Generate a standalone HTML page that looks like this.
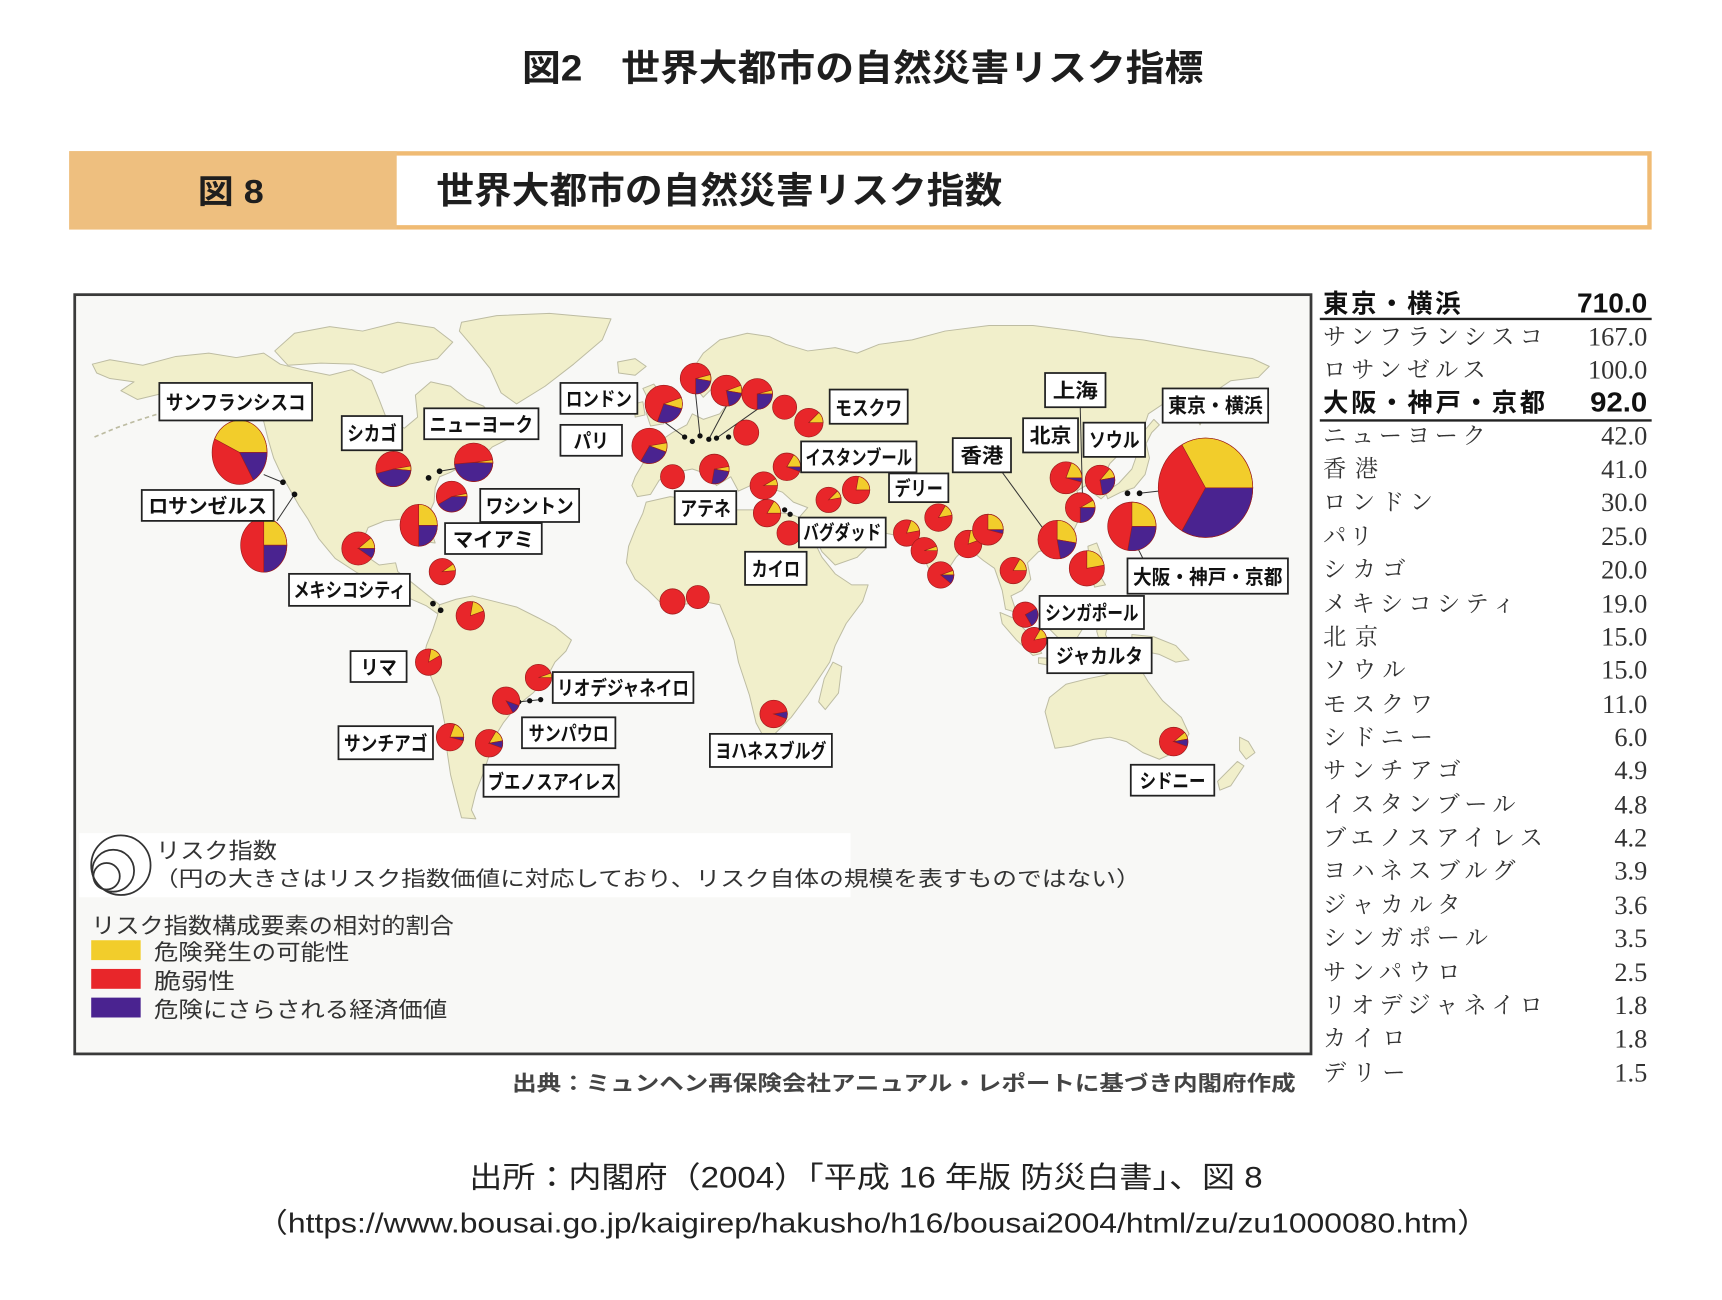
<!DOCTYPE html>
<html lang="ja">
<head>
<meta charset="utf-8">
<style>
html,body{margin:0;padding:0;background:#fff;}
svg{display:block;}
.sans{font-family:"Liberation Sans","Noto Sans CJK JP",sans-serif;}
.serif{font-family:"Liberation Serif","Noto Serif CJK SC",serif;}
</style>
</head>
<body>
<svg width="1722" height="1300" viewBox="0 0 1567 1178" preserveAspectRatio="none" xmlns="http://www.w3.org/2000/svg">
<rect x="0" y="0" width="1567" height="1178" fill="#ffffff"/>

<!-- Main title -->
<text class="sans" x="475" y="73" font-size="33" font-weight="bold" fill="#1e1e1e" textLength="620" lengthAdjust="spacingAndGlyphs">図2　世界大都市の自然災害リスク指標</text>

<!-- Banner -->
<rect x="65" y="139" width="1436" height="67" fill="#ffffff" stroke="#F0BB74" stroke-width="4"/>
<rect x="63" y="137" width="298" height="71" fill="#EEBF7F"/>
<text class="sans" x="180" y="184" font-size="30" font-weight="bold" fill="#1e1e1e" textLength="60" lengthAdjust="spacingAndGlyphs">図 8</text>
<text class="sans" x="397" y="184" font-size="33" font-weight="bold" fill="#1e1e1e" textLength="515" lengthAdjust="spacingAndGlyphs">世界大都市の自然災害リスク指数</text>

<!-- Map frame -->
<rect x="68" y="267" width="1125" height="688" fill="#F8F8F6" stroke="#3a3a3a" stroke-width="2.5"/>

<!-- Land -->
<g fill="#F1EFCB" stroke="#BDBCA2" stroke-width="0.9" stroke-linejoin="round">
<path d="M84,330 L100,326 L130,331 L160,323 L190,320 L215,324 L240,320 L255,330 L275,335 L300,340 L320,335 L338,345 L345,362 L352,380 L368,388 L380,378 L378,358 L392,346 L410,350 L425,362 L440,368 L455,385 L462,398 L448,405 L440,413 L425,420 L410,428 L400,432 L396,442 L395,455 L390,466 L386,470 L392,480 L396,492 L388,491 L382,476 L370,470 L350,472 L335,478 L330,490 L335,505 L345,512 L360,510 L362,518 L375,528 L390,540 L400,548 L404,553 L398,556 L388,549 L370,541 L350,531 L325,519 L305,506 L290,488 L280,470 L272,458 L264,444 L256,430 L249,415 L244,398 L240,382 L230,367 L215,357 L195,352 L175,353 L150,356 L125,362 L110,354 L122,346 L100,343 L88,338 Z"/>
<path d="M250,318 L268,302 L300,296 L330,300 L362,292 L395,297 L412,310 L398,325 L372,330 L348,338 L322,330 L292,329 L262,331 Z"/>
<path d="M420,292 L452,286 L500,284 L556,289 L548,308 L522,330 L496,350 L470,366 L456,356 L446,334 L430,314 L418,300 Z"/>
<path d="M562,328 L578,325 L588,332 L578,340 L563,338 Z"/>
<path d="M400,548 L415,543 L430,540 L450,545 L470,550 L490,560 L505,568 L520,580 L515,590 L505,600 L497,615 L485,628 L470,640 L458,655 L450,668 L445,685 L440,700 L433,718 L429,734 L433,742 L420,741 L415,722 L410,702 L407,682 L405,657 L400,632 L392,613 L385,600 L388,585 L394,570 L398,558 Z"/>
<path d="M588,455 L610,450 L640,455 L660,462 L690,462 L720,466 L730,470 L738,485 L748,505 L760,520 L775,530 L790,530 L785,545 L770,565 L760,585 L755,600 L745,615 L735,630 L720,650 L705,665 L695,668 L688,655 L682,630 L672,600 L668,580 L660,560 L655,548 L640,545 L620,548 L600,545 L590,535 L578,525 L570,510 L572,495 L578,480 L585,465 Z"/>
<path d="M578,432 L585,420 L598,415 L600,400 L612,392 L625,385 L630,375 L640,380 L655,375 L665,362 L660,350 L648,352 L640,360 L632,350 L630,335 L640,320 L655,308 L680,302 L700,305 L715,312 L735,318 L760,315 L780,320 L800,312 L830,308 L860,300 L900,295 L940,295 L980,300 L1010,305 L1040,308 L1080,315 L1110,320 L1140,325 L1155,332 L1145,342 L1120,345 L1105,355 L1100,370 L1092,385 L1085,372 L1075,360 L1060,365 L1045,375 L1040,390 L1030,400 L1020,410 L1010,420 L1005,430 L1010,445 L1002,452 L995,447 L988,440 L980,445 L985,458 L982,470 L975,485 L960,495 L945,500 L935,510 L938,525 L930,535 L920,540 L925,555 L915,552 L912,535 L905,515 L895,508 L885,500 L875,500 L870,505 L860,520 L853,531 L845,515 L838,500 L830,488 L815,485 L800,482 L785,478 L775,485 L790,495 L780,505 L760,512 L748,500 L738,480 L728,468 L735,460 L722,455 L712,446 L700,442 L690,446 L683,440 L672,445 L665,432 L652,440 L645,430 L630,425 L615,428 L600,435 L592,448 L580,450 L575,440 Z"/>
<path d="M585,352 L595,348 L602,358 L606,372 L604,384 L592,386 L588,374 L590,362 Z"/>
<path d="M577,366 L585,364 L587,376 L578,378 Z"/>
<path d="M758,600 L766,604 L763,628 L751,643 L745,636 L750,615 Z"/>
<path d="M1008,452 L1020,446 L1032,442 L1042,430 L1046,415 L1043,402 L1048,392 L1055,385 L1050,380 L1040,392 L1036,408 L1030,425 L1018,438 L1006,446 Z"/>
<path d="M990,495 L998,492 L1003,505 L1000,520 L1006,530 L996,532 L992,515 Z"/>
<path d="M955,555 L970,545 L985,548 L990,562 L980,578 L965,580 L955,570 Z"/>
<path d="M910,555 L922,560 L940,578 L948,592 L940,594 L925,580 L912,565 Z"/>
<path d="M945,596 L970,597 L992,601 L988,605 L960,604 L945,601 Z"/>
<path d="M1000,560 L1010,558 L1006,575 L1012,588 L1002,586 L998,572 Z"/>
<path d="M1030,575 L1050,577 L1070,585 L1082,598 L1070,600 L1055,593 L1040,590 L1030,585 Z"/>
<path d="M955,632 L970,620 L990,615 L1005,612 L1020,606 L1030,600 L1037,605 L1045,618 L1058,635 L1075,650 L1082,665 L1073,680 L1055,688 L1040,682 L1025,672 L1010,668 L995,670 L975,676 L960,678 L955,660 L951,645 Z"/>
<path d="M1048,694 L1058,694 L1055,702 L1048,700 Z"/>
<path d="M1128,668 L1136,672 L1142,682 L1134,688 L1128,680 Z"/>
<path d="M1126,690 L1132,694 L1120,712 L1110,716 L1108,708 Z"/>
</g>
<path d="M86,396 L105,388 L125,381 L144,375" stroke="#BDBCA2" stroke-width="1.5" fill="none" stroke-dasharray="4,3"/>

<!-- connectors -->
<g stroke="#333" stroke-width="0.9" fill="none">
<line x1="268" y1="448" x2="252" y2="472"/>
<line x1="257" y1="437" x2="240" y2="430"/>
<line x1="400" y1="427" x2="418" y2="424"/>
<line x1="623" y1="396" x2="604" y2="382"/>
<line x1="637" y1="395" x2="633" y2="357"/>
<line x1="645" y1="398" x2="661" y2="368"/>
<line x1="652" y1="397" x2="689" y2="371"/>
<line x1="912" y1="428" x2="950" y2="480"/>
<line x1="983" y1="369" x2="985" y2="448"/>
<line x1="1040" y1="506" x2="1036" y2="498"/>
<line x1="1037" y1="447" x2="1054" y2="445"/>
<line x1="472" y1="636" x2="492" y2="634"/>
</g>
<g fill="#111">
<circle cx="257.5" cy="437" r="2.6"/><circle cx="268" cy="448" r="2.6"/>
<circle cx="390" cy="433" r="2.6"/><circle cx="400" cy="427" r="2.6"/>
<circle cx="394" cy="547" r="2.6"/><circle cx="401" cy="553" r="2.6"/>
<circle cx="472" cy="636" r="2.4"/><circle cx="482" cy="635" r="2.4"/><circle cx="492" cy="634" r="2.4"/>
<circle cx="623" cy="396" r="2.4"/><circle cx="630" cy="400" r="2.4"/><circle cx="637" cy="395" r="2.4"/>
<circle cx="645" cy="398" r="2.4"/><circle cx="652" cy="397" r="2.4"/><circle cx="663" cy="396" r="2.4"/>
<circle cx="714" cy="462" r="2.4"/><circle cx="719" cy="466" r="2.4"/>
<circle cx="1026" cy="447" r="2.6"/><circle cx="1037" cy="447" r="2.6"/>
</g>

<!-- Pies -->
<g stroke="#9a1c1c" stroke-width="0.6">
<ellipse cx="218" cy="410" rx="25" ry="29" fill="#E8262A"/>
<path d="M218,410 L195.3,397.7 A25,29 0 0,1 243,410 Z" fill="#F2CD2B"/>
<path d="M218,410 L243,410 A25,29 0 0,1 230.5,435.1 Z" fill="#4A2390"/>

<ellipse cx="240" cy="494" rx="21" ry="24.5" fill="#E8262A"/>
<path d="M240,494 L240,469.5 A21,24.5 0 0,1 261,494 Z" fill="#F2CD2B"/>
<path d="M240,494 L261,494 A21,24.5 0 0,1 240,518.5 Z" fill="#4A2390"/>

<circle cx="358" cy="425" r="16" fill="#E8262A"/>
<path d="M358,425 L373.8,422.2 A16,16 0 0,1 373.9,426.4 Z" fill="#F2CD2B"/>
<path d="M358,425 L373.9,426.4 A16,16 0 0,1 342.5,429.1 Z" fill="#4A2390"/>

<circle cx="431" cy="419" r="17.5" fill="#E8262A"/>
<path d="M431,419 L448.3,416.6 A17.5,17.5 0 0,1 448.5,419.6 Z" fill="#F2CD2B"/>
<path d="M431,419 L448.5,419.6 A17.5,17.5 0 0,1 413.6,420.5 Z" fill="#4A2390"/>

<circle cx="411" cy="450" r="14" fill="#E8262A"/>
<path d="M411,450 L424.7,447.1 A14,14 0 0,1 425,450 Z" fill="#F2CD2B"/>
<path d="M411,450 L425,450 A14,14 0 0,1 398.9,457 Z" fill="#4A2390"/>

<ellipse cx="381" cy="476" rx="17" ry="19" fill="#E8262A"/>
<path d="M381,476 L381,457 A17,19 0 0,1 398,476 Z" fill="#F2CD2B"/>
<path d="M381,476 L398,476 A17,19 0 0,1 381,495 Z" fill="#4A2390"/>

<circle cx="326" cy="497" r="15" fill="#E8262A"/>
<path d="M326,497 L337.5,487.4 A15,15 0 0,1 341,497 Z" fill="#F2CD2B"/>
<path d="M326,497 L341,497 A15,15 0 0,1 338.3,505.6 Z" fill="#4A2390"/>

<circle cx="402.5" cy="518" r="12" fill="#E8262A"/>
<path d="M402.5,518 L412.3,511.1 A12,12 0 0,1 414.5,517 Z" fill="#F2CD2B"/>

<circle cx="428" cy="558" r="13" fill="#E8262A"/>
<path d="M428,558 L430.3,545.2 A13,13 0 0,1 440.2,553.6 Z" fill="#F2CD2B"/>

<circle cx="390" cy="600" r="12" fill="#E8262A"/>
<path d="M390,600 L392.1,588.2 A12,12 0 0,1 400.4,594 Z" fill="#F2CD2B"/>

<circle cx="490" cy="614" r="12" fill="#E8262A"/>
<path d="M490,614 L501.3,609.9 A12,12 0 0,1 502,614 Z" fill="#F2CD2B"/>

<circle cx="460.5" cy="635" r="12.5" fill="#E8262A"/>
<path d="M460.5,635 L472.3,639.3 A12.5,12.5 0 0,1 466.8,645.8 Z" fill="#4A2390"/>

<circle cx="409.5" cy="668" r="12.5" fill="#E8262A"/>
<path d="M409.5,668 L413.8,656.3 A12.5,12.5 0 0,1 422,668 Z" fill="#F2CD2B"/>
<path d="M409.5,668 L422,668 A12.5,12.5 0 0,1 421.6,671.2 Z" fill="#4A2390"/>

<circle cx="445" cy="673.5" r="12.5" fill="#E8262A"/>
<path d="M445,673.5 L451.3,662.7 A12.5,12.5 0 0,1 457.3,671.3 Z" fill="#F2CD2B"/>
<path d="M445,673.5 L457.3,671.3 A12.5,12.5 0 0,1 456.7,677.8 Z" fill="#4A2390"/>

<circle cx="633" cy="343" r="14" fill="#E8262A"/>
<path d="M633,343 L646.5,339.4 A14,14 0 0,1 646.8,345.4 Z" fill="#F2CD2B"/>
<path d="M633,343 L646.8,345.4 A14,14 0 0,1 633,357 Z" fill="#4A2390"/>

<circle cx="604" cy="366" r="17" fill="#E8262A"/>
<path d="M604,366 L620,360.2 A17,17 0 0,1 620.4,370.4 Z" fill="#F2CD2B"/>
<path d="M604,366 L620.4,370.4 A17,17 0 0,1 598.2,382 Z" fill="#4A2390"/>

<circle cx="661" cy="354" r="14" fill="#E8262A"/>
<path d="M661,354 L674.2,349.2 A14,14 0 0,1 674.8,356.4 Z" fill="#F2CD2B"/>
<path d="M661,354 L674.8,356.4 A14,14 0 0,1 663.4,367.8 Z" fill="#4A2390"/>

<circle cx="689" cy="357" r="14" fill="#E8262A"/>
<path d="M689,357 L702.5,353.4 A14,14 0 0,1 703,357 Z" fill="#F2CD2B"/>
<path d="M689,357 L703,357 A14,14 0 0,1 689,371 Z" fill="#4A2390"/>

<circle cx="714" cy="369" r="11" fill="#E8262A"/>

<circle cx="736" cy="383" r="13" fill="#E8262A"/>
<path d="M736,383 L745.2,373.8 A13,13 0 0,1 749,383 Z" fill="#F2CD2B"/>

<circle cx="591" cy="404" r="16" fill="#E8262A"/>
<path d="M591,404 L606.8,401.2 A16,16 0 0,1 606,409.5 Z" fill="#F2CD2B"/>
<path d="M591,404 L606,409.5 A16,16 0 0,1 583,417.9 Z" fill="#4A2390"/>

<circle cx="679" cy="392" r="11.5" fill="#E8262A"/>

<circle cx="650" cy="425" r="13.5" fill="#E8262A"/>
<path d="M650,425 L663.3,422.7 A13.5,13.5 0 0,1 663.3,427.3 Z" fill="#F2CD2B"/>
<path d="M650,425 L663.3,427.3 A13.5,13.5 0 0,1 647.7,438.3 Z" fill="#4A2390"/>

<circle cx="612" cy="432" r="11" fill="#E8262A"/>

<circle cx="716" cy="423" r="12.5" fill="#E8262A"/>
<path d="M716,423 L722.3,412.2 A12.5,12.5 0 0,1 728.5,423 Z" fill="#F2CD2B"/>
<path d="M716,423 L728.5,423 A12.5,12.5 0 0,1 727.7,427.3 Z" fill="#4A2390"/>

<circle cx="695" cy="440" r="12.5" fill="#E8262A"/>
<path d="M695,440 L705.8,433.8 A12.5,12.5 0 0,1 707.5,440 Z" fill="#F2CD2B"/>

<circle cx="698" cy="465" r="12.5" fill="#E8262A"/>
<path d="M698,465 L704.3,454.2 A12.5,12.5 0 0,1 710.5,465 Z" fill="#F2CD2B"/>

<circle cx="718" cy="483" r="11" fill="#E8262A"/>

<circle cx="754" cy="453" r="11.5" fill="#E8262A"/>
<path d="M754,453 L762.1,444.9 A11.5,11.5 0 0,1 765.3,451 Z" fill="#F2CD2B"/>

<circle cx="779" cy="444" r="12.5" fill="#E8262A"/>
<path d="M779,444 L781.2,431.7 A12.5,12.5 0 0,1 791.5,444 Z" fill="#F2CD2B"/>

<circle cx="825" cy="483" r="12" fill="#E8262A"/>
<path d="M825,483 L829.1,471.7 A12,12 0 0,1 836.8,480.9 Z" fill="#F2CD2B"/>

<circle cx="841" cy="499" r="12" fill="#E8262A"/>
<path d="M841,499 L852.3,494.9 A12,12 0 0,1 853,499 Z" fill="#F2CD2B"/>

<circle cx="856" cy="521" r="12" fill="#E8262A"/>
<path d="M856,521 L867.3,516.9 A12,12 0 0,1 868,521 Z" fill="#F2CD2B"/>
<path d="M856,521 L868,521 A12,12 0 0,1 865.2,528.7 Z" fill="#4A2390"/>

<circle cx="854" cy="469" r="12.5" fill="#E8262A"/>
<path d="M854,469 L860.3,458.2 A12.5,12.5 0 0,1 866.3,466.8 Z" fill="#F2CD2B"/>

<circle cx="881" cy="493" r="12.5" fill="#E8262A"/>
<path d="M881,493 L883.2,480.7 A12.5,12.5 0 0,1 892.8,488.7 Z" fill="#F2CD2B"/>

<circle cx="899" cy="480" r="14" fill="#E8262A"/>
<path d="M899,480 L899,466 A14,14 0 0,1 913,480 Z" fill="#F2CD2B"/>
<path d="M899,480 L913,480 A14,14 0 0,1 912.5,483.6 Z" fill="#4A2390"/>

<circle cx="922" cy="517" r="12" fill="#E8262A"/>
<path d="M922,517 L928,506.6 A12,12 0 0,1 934,517 Z" fill="#F2CD2B"/>

<circle cx="962" cy="489" r="17.5" fill="#E8262A"/>
<path d="M962,489 L962,471.5 A17.5,17.5 0 0,1 979.2,492 Z" fill="#F2CD2B"/>
<path d="M962,489 L979.2,492 A17.5,17.5 0 0,1 965,506.2 Z" fill="#4A2390"/>

<circle cx="970" cy="433" r="14.5" fill="#E8262A"/>
<path d="M970,433 L975,419.4 A14.5,14.5 0 0,1 984.5,433 Z" fill="#F2CD2B"/>
<path d="M970,433 L984.5,433 A14.5,14.5 0 0,1 984,436.8 Z" fill="#4A2390"/>

<circle cx="1001" cy="435" r="13.5" fill="#E8262A"/>
<path d="M1001,435 L1009.7,424.7 A13.5,13.5 0 0,1 1014.3,432.7 Z" fill="#F2CD2B"/>
<path d="M1001,435 L1014.3,432.7 A13.5,13.5 0 0,1 1003.3,448.3 Z" fill="#4A2390"/>

<circle cx="983" cy="460" r="13.5" fill="#E8262A"/>
<path d="M983,460 L994.7,453.3 A13.5,13.5 0 0,1 996.5,460 Z" fill="#F2CD2B"/>
<path d="M983,460 L996.5,460 A13.5,13.5 0 0,1 983,473.5 Z" fill="#4A2390"/>

<circle cx="1030" cy="477" r="22" fill="#E8262A"/>
<path d="M1030,477 L1030,455 A22,22 0 0,1 1052,477 Z" fill="#F2CD2B"/>
<path d="M1030,477 L1052,477 A22,22 0 0,1 1026.2,498.7 Z" fill="#4A2390"/>

<circle cx="989" cy="515" r="16" fill="#E8262A"/>
<path d="M989,515 L989,499 A16,16 0 0,1 1004.8,512.2 Z" fill="#F2CD2B"/>

<ellipse cx="1097" cy="442" rx="43" ry="45" fill="#E8262A"/>
<path d="M1097,442 L1075.5,403 A43,45 0 0,1 1140,442 Z" fill="#F2CD2B"/>
<path d="M1097,442 L1140,442 A43,45 0 0,1 1075.5,481 Z" fill="#4A2390"/>

<circle cx="933" cy="557" r="11.5" fill="#E8262A"/>
<path d="M933,557 L943,551.3 A11.5,11.5 0 0,1 938.8,567 Z" fill="#4A2390"/>

<circle cx="941" cy="580" r="11.5" fill="#E8262A"/>
<path d="M941,580 L946.8,570 A11.5,11.5 0 0,1 952.3,578 Z" fill="#F2CD2B"/>

<circle cx="612" cy="545" r="11.5" fill="#E8262A"/>
<circle cx="635" cy="541" r="10.5" fill="#E8262A"/>

<circle cx="704" cy="647" r="12.5" fill="#E8262A"/>
<path d="M704,647 L716.3,644.8 A12.5,12.5 0 0,1 715.7,651.3 Z" fill="#4A2390"/>

<circle cx="1068" cy="672" r="13" fill="#E8262A"/>
<path d="M1068,672 L1078,663.6 A13,13 0 0,1 1080.8,669.7 Z" fill="#F2CD2B"/>
<path d="M1068,672 L1080.8,669.7 A13,13 0 0,1 1080.2,676.4 Z" fill="#4A2390"/>
</g>

<!-- Labels -->
<g class="sans" font-size="18" font-weight="bold" fill="#111">
<g fill="#fff" stroke="#222" stroke-width="1.6">
<rect x="145" y="347" width="139" height="34"/>
<rect x="129" y="444" width="120" height="28"/>
<rect x="311" y="377" width="55" height="31"/>
<rect x="386" y="370" width="104" height="28"/>
<rect x="437" y="443" width="90" height="30"/>
<rect x="405" y="474" width="88" height="28"/>
<rect x="263" y="520" width="110" height="29"/>
<rect x="319" y="590" width="51" height="28"/>
<rect x="308" y="658" width="86" height="30"/>
<rect x="503" y="609" width="128" height="28"/>
<rect x="475" y="650" width="85" height="28"/>
<rect x="440" y="693" width="123" height="29"/>
<rect x="510" y="347" width="70" height="28"/>
<rect x="510" y="385" width="56" height="28"/>
<rect x="614" y="445" width="56" height="30"/>
<rect x="755" y="353" width="71" height="31"/>
<rect x="729" y="400" width="105" height="28"/>
<rect x="809" y="429" width="54" height="26"/>
<rect x="867" y="397" width="53" height="31"/>
<rect x="727" y="469" width="79" height="27"/>
<rect x="678" y="500" width="56" height="30"/>
<rect x="931" y="379" width="50" height="31"/>
<rect x="951" y="338" width="55" height="31"/>
<rect x="986" y="383" width="56" height="31"/>
<rect x="1058" y="352" width="96" height="31"/>
<rect x="1026" y="506" width="146" height="32"/>
<rect x="946" y="540" width="95" height="30"/>
<rect x="953" y="578" width="95" height="32"/>
<rect x="646" y="665" width="111" height="30"/>
<rect x="1029" y="693" width="76" height="28"/>
</g>
<text x="151" y="371" textLength="127" lengthAdjust="spacingAndGlyphs">サンフランシスコ</text>
<text x="135" y="465" textLength="108" lengthAdjust="spacingAndGlyphs">ロサンゼルス</text>
<text x="316" y="399" textLength="45" lengthAdjust="spacingAndGlyphs">シカゴ</text>
<text x="391" y="391" textLength="94" lengthAdjust="spacingAndGlyphs">ニューヨーク</text>
<text x="442" y="465" textLength="80" lengthAdjust="spacingAndGlyphs">ワシントン</text>
<text x="412" y="495" textLength="74" lengthAdjust="spacingAndGlyphs">マイアミ</text>
<text x="267" y="541" textLength="102" lengthAdjust="spacingAndGlyphs">メキシコシティ</text>
<text x="328" y="611" textLength="33" lengthAdjust="spacingAndGlyphs">リマ</text>
<text x="313" y="680" textLength="76" lengthAdjust="spacingAndGlyphs">サンチアゴ</text>
<text x="507" y="630" textLength="120" lengthAdjust="spacingAndGlyphs">リオデジャネイロ</text>
<text x="481" y="671" textLength="73" lengthAdjust="spacingAndGlyphs">サンパウロ</text>
<text x="444" y="715" textLength="117" lengthAdjust="spacingAndGlyphs">ブエノスアイレス</text>
<text x="515" y="368" textLength="60" lengthAdjust="spacingAndGlyphs">ロンドン</text>
<text x="522" y="406" textLength="32" lengthAdjust="spacingAndGlyphs">パリ</text>
<text x="619" y="467" textLength="46" lengthAdjust="spacingAndGlyphs">アテネ</text>
<text x="760" y="376" textLength="61" lengthAdjust="spacingAndGlyphs">モスクワ</text>
<text x="733" y="421" textLength="97" lengthAdjust="spacingAndGlyphs">イスタンブール</text>
<text x="814" y="449" textLength="44" lengthAdjust="spacingAndGlyphs">デリー</text>
<text x="874" y="419" textLength="39" lengthAdjust="spacingAndGlyphs">香港</text>
<text x="731" y="489" textLength="71" lengthAdjust="spacingAndGlyphs">バグダッド</text>
<text x="684" y="522" textLength="44" lengthAdjust="spacingAndGlyphs">カイロ</text>
<text x="937" y="401" textLength="38" lengthAdjust="spacingAndGlyphs">北京</text>
<text x="958" y="360" textLength="41" lengthAdjust="spacingAndGlyphs">上海</text>
<text x="991" y="405" textLength="46" lengthAdjust="spacingAndGlyphs">ソウル</text>
<text x="1063" y="374" textLength="86" lengthAdjust="spacingAndGlyphs">東京・横浜</text>
<text x="1031" y="529" textLength="136" lengthAdjust="spacingAndGlyphs">大阪・神戸・京都</text>
<text x="951" y="562" textLength="85" lengthAdjust="spacingAndGlyphs">シンガポール</text>
<text x="961" y="601" textLength="79" lengthAdjust="spacingAndGlyphs">ジャカルタ</text>
<text x="651" y="687" textLength="101" lengthAdjust="spacingAndGlyphs">ヨハネスブルグ</text>
<text x="1037" y="714" textLength="60" lengthAdjust="spacingAndGlyphs">シドニー</text>
</g>

<!-- Legend -->
<rect x="72" y="755" width="702" height="58" fill="#ffffff"/>
<g fill="none" stroke="#333" stroke-width="1.6">
<circle cx="110" cy="784" r="27"/>
<circle cx="103" cy="789" r="19"/>
<circle cx="97" cy="794" r="12"/>
</g>
<g class="sans" fill="#333">
<text x="142" y="778" font-size="20" textLength="110" lengthAdjust="spacingAndGlyphs">リスク指数</text>
<text x="140" y="803" font-size="19" textLength="898" lengthAdjust="spacingAndGlyphs">（円の大きさはリスク指数価値に対応しており、リスク自体の規模を表すものではない）</text>
<text x="83" y="846" font-size="20" textLength="330" lengthAdjust="spacingAndGlyphs">リスク指数構成要素の相対的割合</text>
<text x="140" y="870" font-size="20" textLength="178" lengthAdjust="spacingAndGlyphs">危険発生の可能性</text>
<text x="140" y="896" font-size="20" textLength="74" lengthAdjust="spacingAndGlyphs">脆弱性</text>
<text x="140" y="922" font-size="20" textLength="267" lengthAdjust="spacingAndGlyphs">危険にさらされる経済価値</text>
</g>
<rect x="83" y="852" width="45" height="18" fill="#F2CD2B"/>
<rect x="83" y="878" width="45" height="18" fill="#E8262A"/>
<rect x="83" y="904" width="45" height="18" fill="#4A2390"/>

<!-- Table -->
<g class="sans" font-weight="bold" fill="#111">
<text x="1204" y="283" font-size="23" textLength="125" lengthAdjust="spacing">東京・横浜</text>
<text x="1499" y="283" font-size="25" text-anchor="end" textLength="64" lengthAdjust="spacingAndGlyphs">710.0</text>
<text x="1204" y="373" font-size="23" textLength="202" lengthAdjust="spacing">大阪・神戸・京都</text>
<text x="1499" y="373" font-size="25" text-anchor="end" textLength="52" lengthAdjust="spacingAndGlyphs">92.0</text>
</g>
<line x1="1201" y1="289" x2="1503" y2="289" stroke="#222" stroke-width="2.2"/>
<line x1="1201" y1="381" x2="1503" y2="381" stroke="#222" stroke-width="2.2"/>
<g class="serif" font-size="21" fill="#333">
<text x="1204" y="312" textLength="200" lengthAdjust="spacing">サンフランシスコ</text>
<text x="1204" y="342" textLength="148" lengthAdjust="spacing">ロサンゼルス</text>
<text x="1204" y="402" textLength="148" lengthAdjust="spacing">ニューヨーク</text>
<text x="1204" y="432" textLength="50" lengthAdjust="spacing">香港</text>
<text x="1204" y="462" textLength="100" lengthAdjust="spacing">ロンドン</text>
<text x="1204" y="493" textLength="45" lengthAdjust="spacing">パリ</text>
<text x="1204" y="523" textLength="75" lengthAdjust="spacing">シカゴ</text>
<text x="1204" y="554" textLength="175" lengthAdjust="spacing">メキシコシティ</text>
<text x="1204" y="584" textLength="50" lengthAdjust="spacing">北京</text>
<text x="1204" y="614" textLength="75" lengthAdjust="spacing">ソウル</text>
<text x="1204" y="645" textLength="100" lengthAdjust="spacing">モスクワ</text>
<text x="1204" y="675" textLength="100" lengthAdjust="spacing">シドニー</text>
<text x="1204" y="705" textLength="125" lengthAdjust="spacing">サンチアゴ</text>
<text x="1204" y="736" textLength="175" lengthAdjust="spacing">イスタンブール</text>
<text x="1204" y="766" textLength="200" lengthAdjust="spacing">ブエノスアイレス</text>
<text x="1204" y="796" textLength="175" lengthAdjust="spacing">ヨハネスブルグ</text>
<text x="1204" y="827" textLength="125" lengthAdjust="spacing">ジャカルタ</text>
<text x="1204" y="857" textLength="150" lengthAdjust="spacing">シンガポール</text>
<text x="1204" y="888" textLength="125" lengthAdjust="spacing">サンパウロ</text>
<text x="1204" y="918" textLength="200" lengthAdjust="spacing">リオデジャネイロ</text>
<text x="1204" y="948" textLength="75" lengthAdjust="spacing">カイロ</text>
<text x="1204" y="979" textLength="75" lengthAdjust="spacing">デリー</text>
</g>
<g class="serif" font-size="24" fill="#333" text-anchor="end">
<text x="1499" y="313">167.0</text>
<text x="1499" y="343">100.0</text>
<text x="1499" y="403">42.0</text>
<text x="1499" y="433">41.0</text>
<text x="1499" y="463">30.0</text>
<text x="1499" y="494">25.0</text>
<text x="1499" y="524">20.0</text>
<text x="1499" y="555">19.0</text>
<text x="1499" y="585">15.0</text>
<text x="1499" y="615">15.0</text>
<text x="1499" y="646">11.0</text>
<text x="1499" y="676">6.0</text>
<text x="1499" y="706">4.9</text>
<text x="1499" y="737">4.8</text>
<text x="1499" y="767">4.2</text>
<text x="1499" y="797">3.9</text>
<text x="1499" y="828">3.6</text>
<text x="1499" y="858">3.5</text>
<text x="1499" y="889">2.5</text>
<text x="1499" y="919">1.8</text>
<text x="1499" y="949">1.8</text>
<text x="1499" y="980">1.5</text>
</g>

<!-- Source lines -->
<text class="sans" x="466" y="988" font-size="19" font-weight="bold" fill="#444" textLength="713" lengthAdjust="spacingAndGlyphs">出典：ミュンヘン再保険会社アニュアル・レポートに基づき内閣府作成</text>
<text class="sans" x="427" y="1076" font-size="27" fill="#222" textLength="722" lengthAdjust="spacingAndGlyphs">出所：内閣府（2004）「平成 16 年版 防災白書」、図 8</text>
<text class="sans" x="233" y="1117" font-size="25" fill="#222" textLength="1122" lengthAdjust="spacingAndGlyphs">（https://www.bousai.go.jp/kaigirep/hakusho/h16/bousai2004/html/zu/zu1000080.htm）</text>
</svg>
</body>
</html>
